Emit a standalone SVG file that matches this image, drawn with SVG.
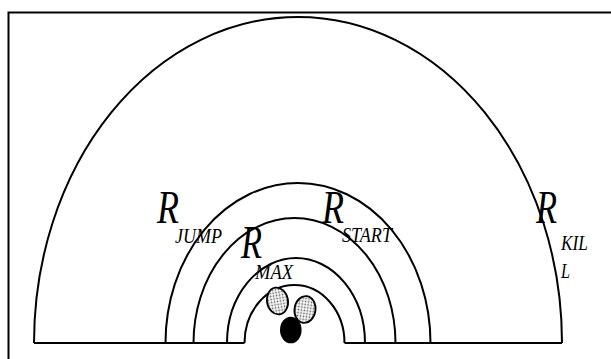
<svg xmlns="http://www.w3.org/2000/svg" width="611" height="359" viewBox="0 0 611 359">
<style>
.arc{fill:none;stroke:#000;stroke-width:2}
.R{font-family:"Liberation Serif","Times New Roman",serif;font-style:italic;font-size:46px;fill:#000}
.sub{font-family:"Liberation Serif","Times New Roman",serif;font-style:italic;font-size:22px;fill:#000}
</style>
<defs>
<pattern id="dots" width="3" height="3" patternUnits="userSpaceOnUse">
<rect width="3" height="3" fill="#fff"/>
<circle cx="1.5" cy="1.5" r="0.9" fill="#666"/>
</pattern>
</defs>
<rect width="611" height="359" fill="#fff"/>
<path d="M8.5,360 V12.5 H612" fill="none" stroke="#000" stroke-width="2"/>
<g id="connectors">
<path class="arc" d="M34,343 A264,326 0 0 1 562,343"/>
<path class="arc" d="M165.5,343 A132.5,160 0 0 1 430.5,343"/>
<path class="arc" d="M193.5,343 A101,125 0 0 1 395.5,343"/>
<path class="arc" d="M227,343 A69,85 0 0 1 365,343"/>
<path class="arc" d="M244.5,343 A50,58 0 0 1 344.5,343"/>
<path class="arc" d="M34,343 H244.5 M344.5,343 H562"/>
</g>
<g id="r-jump">
<text class="R" x="157" y="223" textLength="22" lengthAdjust="spacingAndGlyphs">R</text>
<text class="sub" x="175" y="243.3" textLength="47" lengthAdjust="spacingAndGlyphs">JUMP</text>
</g>
<g id="r-start">
<text class="R" x="322" y="223" textLength="22" lengthAdjust="spacingAndGlyphs">R</text>
<text class="sub" x="342" y="242" textLength="50" lengthAdjust="spacingAndGlyphs">START</text>
</g>
<g id="r-max">
<text class="R" x="241" y="258" textLength="21" lengthAdjust="spacingAndGlyphs">R</text>
<text class="sub" x="255" y="279" textLength="38" lengthAdjust="spacingAndGlyphs">MAX</text>
</g>
<g id="r-kill">
<text class="R" x="536" y="223" textLength="21" lengthAdjust="spacingAndGlyphs">R</text>
<text class="sub" x="561" y="250" textLength="27" lengthAdjust="spacingAndGlyphs">KIL</text>
<text class="sub" x="561" y="277.7" textLength="9" lengthAdjust="spacingAndGlyphs">L</text>
</g>
<g id="particle-1">
<ellipse cx="277.5" cy="301" rx="10.5" ry="13.5" transform="rotate(-10 277.5 301)" fill="url(#dots)" stroke="#000" stroke-width="1.8"/>
</g>
<g id="particle-2">
<ellipse cx="305" cy="309.5" rx="10.5" ry="13.5" transform="rotate(8 305 309.5)" fill="url(#dots)" stroke="#000" stroke-width="1.8"/>
</g>
<g id="particle-3">
<ellipse cx="290.8" cy="330" rx="10.8" ry="13.3" fill="#000"/>
</g>
</svg>
